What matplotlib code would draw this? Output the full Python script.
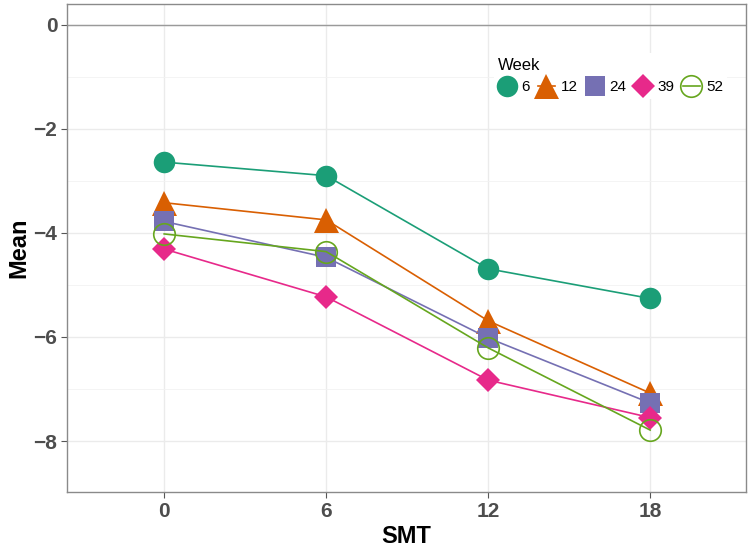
import matplotlib
matplotlib.use("Agg")
import matplotlib.pyplot as plt
from matplotlib.ticker import MultipleLocator

plt.rcParams['font.family'] = ['Liberation Sans', 'DejaVu Sans']

# данные
smt = [0, 6, 12, 18]
weeks = ['6', '12', '24', '39', '52']
mean_w6 = [-2.64, -2.90, -4.69, -5.26]
mean_w12 = [-3.42, -3.75, -5.69, -7.08]
mean_w24 = [-3.78, -4.47, -6.02, -7.27]
mean_w39 = [-4.31, -5.23, -6.83, -7.55]
mean_w52 = [-4.02, -4.36, -6.21, -7.79]

series = [mean_w6, mean_w12, mean_w24, mean_w39, mean_w52]
colors = ['#1B9E77', '#D95F02', '#7570B3', '#E7298A', '#66A61E']
markers = ['o', '^', 's', 'D', 'o']
sizes = [15.5, 18, 15, 12, 15.5]

fig = plt.figure(figsize=(7.5, 5.52), dpi=100)
ax = fig.add_axes([0.0893, 0.1087, 0.9054, 0.8841])

ax.axhline(0, color='#9a9a9a', lw=1.0, zorder=1)

for vals, wk, c, m, s in zip(series, weeks, colors, markers, sizes):
    if wk == '52':
        ax.plot(smt, vals, color=c, lw=1.2, marker=m, markersize=s,
                markerfacecolor='none', markeredgecolor=c, markeredgewidth=1.2,
                label=wk, zorder=3)
    else:
        ax.plot(smt, vals, color=c, lw=1.2, marker=m, markersize=s,
                markeredgewidth=0, label=wk, zorder=3)

ax.set_xlim(-3.6, 21.55)
ax.set_ylim(-8.98, 0.40)
ax.set_xticks(smt)
ax.set_yticks([0, -2, -4, -6, -8])
ax.set_yticklabels(['0', '\u22122', '\u22124', '\u22126', '\u22128'])
ax.yaxis.set_minor_locator(MultipleLocator(1))

ax.grid(True, which='major', color='#EBEBEB', lw=1.0)
ax.grid(True, which='minor', axis='y', color='#F2F2F2', lw=0.6)
ax.set_axisbelow(True)

for sp in ax.spines.values():
    sp.set_color('#8a8a8a')
    sp.set_linewidth(1.0)

ax.tick_params(axis='both', which='major', length=4, width=0.8, color='#555555',
               labelsize=15, labelcolor='#4D4D4D', pad=3)
ax.tick_params(axis='y', which='minor', length=0)
for lab in ax.get_xticklabels() + ax.get_yticklabels():
    lab.set_fontweight('bold')

ax.set_xlabel('SMT', fontsize=17, fontweight='bold', labelpad=3)
ax.set_ylabel('Mean', fontsize=17, fontweight='bold', labelpad=2)

leg = ax.legend(title='Week', ncol=5, loc='upper left', bbox_to_anchor=(0.617, 0.915),
                frameon=True, fontsize=11, title_fontsize=12,
                handlelength=1.1, handletextpad=0.4, columnspacing=0.55,
                borderpad=0.3)
leg.get_frame().set_edgecolor('none')
leg.get_frame().set_facecolor('white')
leg.get_frame().set_alpha(1)
leg._legend_box.align = 'left'

fig.savefig('out.png', dpi=100)
